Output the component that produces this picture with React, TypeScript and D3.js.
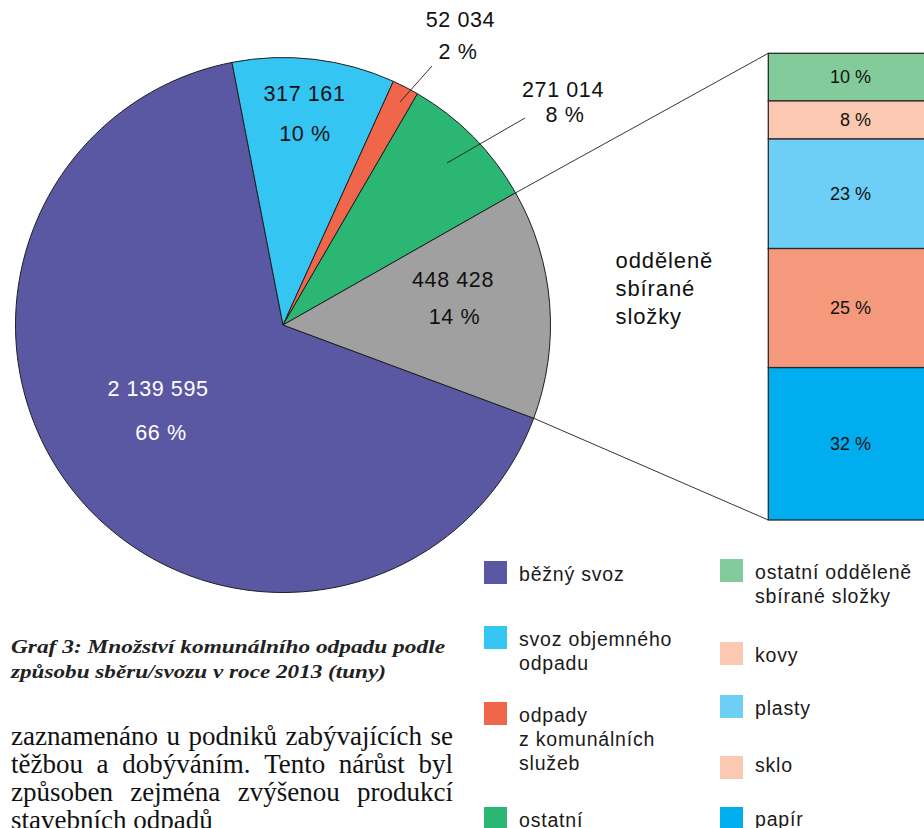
import React, { useMemo } from "react";
import * as d3 from "d3";

// Municipal waste by collection method, 2013 (tonnes)
const categories = [
  "běžný svoz",
  "svoz objemného odpadu",
  "odpady z komunálních služeb",
  "ostatní",
  "odděleně sbírané složky",
];
const tonnes = [2139595, 317161, 52034, 271014, 448428];
const sliceColors = ["#5b58a3", "#35c5f2", "#f0664a", "#2cb674", "#a0a0a0"];

// Breakdown of the separately collected components (%)
const componentNames = ["ostatní odděleně sbírané složky", "kovy", "plasty", "sklo", "papír"];
const componentShares = [10, 8, 23, 25, 32];
const componentColors = ["#84cb9b", "#fbc8b1", "#6dcff6", "#f4997b", "#00aeef"];

// Legend entries (label lines + swatch colour)
const legendLeft = [
  { lines: ["běžný svoz"], color: "#5b58a3" },
  { lines: ["svoz objemného", "odpadu"], color: "#35c5f2" },
  { lines: ["odpady", "z komunálních", "služeb"], color: "#f0664a" },
  { lines: ["ostatní"], color: "#2cb674" },
];
const legendRight = [
  { lines: ["ostatní odděleně", "sbírané složky"], color: "#84cb9b" },
  { lines: ["kovy"], color: "#fbc8b1" },
  { lines: ["plasty"], color: "#6dcff6" },
  { lines: ["sklo"], color: "#fbc8b1" },
  { lines: ["papír"], color: "#00aeef" },
];

const captionLines = [
  "Graf 3: Množství komunálního odpadu podle",
  "způsobu sběru/svozu v roce 2013 (tuny)",
];
const bodyLines = [
  "zaznamenáno u podniků zabývajících se",
  "těžbou a dobýváním. Tento nárůst byl",
  "způsoben zejména zvýšenou produkcí",
  "stavebních odpadů",
];
const breakdownTitle = ["odděleně", "sbírané", "složky"];

// ---- layout ----
const W = 924;
const H = 828;
const CX = 283;
const CY = 325;
const R = 267.5;

// label anchor offsets from the pie centre: [dx1, dy1, dx2, dy2]
const labelOffsets = [
  [-125, 71, -122, 115],
  [21.5, -224, 22, -184],
  [177.5, -298, 175, -266],
  [280, -228, 282, -203],
  [170, -38, 171.5, -1],
];
// leader lines for small slices: [x1, y1, x2, y2] relative to centre (or null)
const leaders = [null, null, [117, -223, 149, -259], [164, -162, 242, -207], null];

const BAR_X = 768.3;
const BAR_W = 175;
const BAR_TOP = 53.3;
const BAR_BOTTOM = 520;

const SANS = "'Liberation Sans', Arial, Helvetica, sans-serif";
const SERIF = "'Liberation Serif', 'Times New Roman', serif";

const fmtThousands = (v: number) => d3.format(",")(v).replace(/,/g, " ");

function measureWords(words: string[], font: string): number[] {
  const canvas = document.createElement("canvas");
  const ctx = canvas.getContext("2d");
  if (!ctx) return words.map((w) => w.length * 12);
  ctx.font = font;
  return words.map((w) => ctx.measureText(w).width);
}

function JustifiedLine({ text, x, y, width, justify }: { text: string; x: number; y: number; width: number; justify: boolean }) {
  const fontSize = 27;
  const words = text.split(" ");
  const widths = measureWords(words, `${fontSize}px 'Liberation Serif'`);
  const spaceW = measureWords([" "], `${fontSize}px 'Liberation Serif'`)[0];
  const total = d3.sum(widths);
  const gap = justify && words.length > 1 ? (width - total) / (words.length - 1) : spaceW;
  let cursor = x;
  return (
    <g>
      {words.map((w, i) => {
        const px = cursor;
        cursor += widths[i] + gap;
        return (
          <text key={i} x={px} y={y} fontFamily={SERIF} fontSize={fontSize} fill="#111">
            {w}
          </text>
        );
      })}
    </g>
  );
}

export default function App() {
  const total = d3.sum(tonnes);
  const mainShare = tonnes[0] / total;
  // the main slice ends at -11° (just left of 12 o'clock)
  const a0 = ((-11 + 360) * Math.PI) / 180 - mainShare * 2 * Math.PI;

  const arcs = useMemo(
    () =>
      d3
        .pie<number>()
        .sort(null)
        .value((d) => d)
        .startAngle(a0)
        .endAngle(a0 + 2 * Math.PI)(tonnes),
    [a0]
  );
  const arcGen = d3.arc<d3.PieArcDatum<number>>().innerRadius(0).outerRadius(R);

  const grey = arcs[4];
  const pt = (a: number) => [CX + R * Math.sin(a), CY - R * Math.cos(a)];
  const [gx1, gy1] = pt(grey.startAngle);
  const [gx2, gy2] = pt(grey.endAngle);

  const barScale = d3
    .scaleLinear()
    .domain([0, d3.sum(componentShares)])
    .range([BAR_TOP, BAR_BOTTOM]);
  const stacks: number[] = [];
  componentShares.reduce((acc, v) => {
    stacks.push(acc);
    return acc + v;
  }, 0);

  const legendFont = { fontFamily: SANS, fontSize: 19.5, letterSpacing: 0.8, fill: "#1a1a1a" };
  const leftRows = [561, 626, 702, 807];
  const rightRows = [559, 642, 695, 756, 807];
  const rightBaselineOffset = [20, 20, 19.5, 16, 19];

  return (
    <svg
      width={W}
      height={H}
      viewBox={`0 0 ${W} ${H}`}
      style={{ position: "absolute", left: 0, top: 0, background: "#fff" }}
    >
      {/* pie */}
      <g transform={`translate(${CX},${CY})`}>
        {arcs.map((a, i) => (
          <path key={categories[i]} d={arcGen(a) || ""} fill={sliceColors[i]} stroke="#1e1e1e" strokeWidth={1} />
        ))}
      </g>

      {/* leader lines for small slices */}
      {leaders.map((l, i) =>
        l ? (
          <line
            key={`ld${i}`}
            x1={CX + l[0]}
            y1={CY + l[1]}
            x2={CX + l[2]}
            y2={CY + l[3]}
            stroke="#1e1e1e"
            strokeWidth={0.9}
          />
        ) : null
      )}

      {/* slice labels */}
      {arcs.map((a, i) => {
        const o = labelOffsets[i];
        const fill = i === 0 ? "#ffffff" : "#111";
        const pct = `${Math.round((tonnes[i] / total) * 100)} %`;
        return (
          <g key={`lb${i}`} fontFamily={SANS} fontSize={21.5} letterSpacing={0.6} fill={fill} textAnchor="middle">
            <text x={CX + o[0]} y={CY + o[1]}>{fmtThousands(tonnes[i])}</text>
            <text x={CX + o[2]} y={CY + o[3]}>{pct}</text>
          </g>
        );
      })}

      {/* connectors to the breakdown bar */}
      <line x1={gx1} y1={gy1} x2={BAR_X} y2={BAR_TOP} stroke="#1e1e1e" strokeWidth={0.9} />
      <line x1={gx2} y1={gy2} x2={BAR_X} y2={BAR_BOTTOM} stroke="#1e1e1e" strokeWidth={0.9} />

      {/* breakdown bar */}
      {componentShares.map((v, i) => {
        const y0 = barScale(stacks[i]);
        const y1 = barScale(stacks[i] + v);
        return (
          <g key={componentNames[i]}>
            <rect x={BAR_X} y={y0} width={BAR_W} height={y1 - y0} fill={componentColors[i]} stroke="#2a2a2a" strokeWidth={1.3} />
            <text
              x={871}
              y={(y0 + y1) / 2 + 6.3}
              textAnchor="end"
              fontFamily={SANS}
              fontSize={18}
              fill="#111"
            >
              {`${v} %`}
            </text>
          </g>
        );
      })}

      {/* breakdown title */}
      {breakdownTitle.map((t, i) => (
        <text key={t} x={615.5} y={268 + i * 28} fontFamily={SANS} fontSize={22} letterSpacing={0.9} fill="#111">
          {t}
        </text>
      ))}

      {/* legend */}
      {legendLeft.map((item, i) => (
        <g key={item.lines.join(" ")}>
          <rect x={484} y={leftRows[i]} width={23} height={23} fill={item.color} />
          {item.lines.map((ln, j) => (
            <text key={ln} x={519} y={leftRows[i] + 20 + j * 24} {...legendFont}>
              {ln}
            </text>
          ))}
        </g>
      ))}
      {legendRight.map((item, i) => (
        <g key={item.lines.join(" ")}>
          <rect x={720} y={rightRows[i]} width={23} height={23} fill={item.color} />
          {item.lines.map((ln, j) => (
            <text key={ln} x={755} y={rightRows[i] + rightBaselineOffset[i] + j * 24} {...legendFont}>
              {ln}
            </text>
          ))}
        </g>
      ))}

      {/* caption */}
      <text
        x={11}
        y={653}
        fontFamily={SERIF}
        fontStyle="italic"
        fontWeight="bold"
        fontSize={19.5}
        fill="#222"
        textLength={434}
        lengthAdjust="spacingAndGlyphs"
      >
        {captionLines[0]}
      </text>
      <text
        x={11}
        y={678}
        fontFamily={SERIF}
        fontStyle="italic"
        fontWeight="bold"
        fontSize={19.5}
        fill="#222"
        textLength={375}
        lengthAdjust="spacingAndGlyphs"
      >
        {captionLines[1]}
      </text>

      {/* running text */}
      {bodyLines.map((ln, i) => (
        <JustifiedLine key={i} text={ln} x={11} y={745 + i * 28} width={442} justify={i < bodyLines.length - 1} />
      ))}
    </svg>
  );
}
